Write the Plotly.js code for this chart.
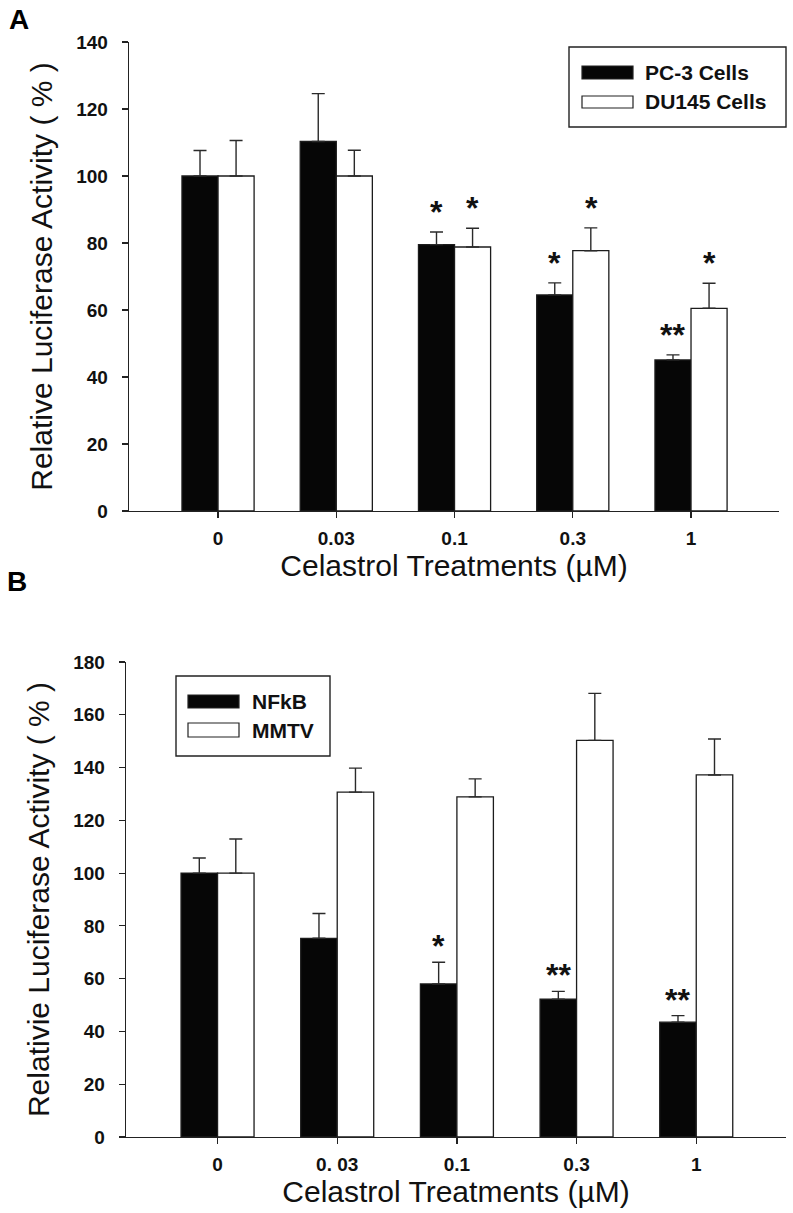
<!DOCTYPE html>
<html>
<head>
<meta charset="utf-8">
<script src="https://cdn.plot.ly/plotly-3.0.1.min.js"></script>
<style>html,body{margin:0;padding:0;background:#fff;}#chart{width:793px;height:1213px;}</style>
</head>
<body>
<div id="chart"></div>
<script>
// ---- Panel A data ----
var categoriesA = ["0", "0.03", "0.1", "0.3", "1"];
var seriesA1Name = "PC-3 Cells";
var seriesA2Name = "DU145 Cells";
var pc3 = [100, 110.3, 79.5, 64.5, 45.1];
var pc3Err = [7.6, 14.3, 3.8, 3.6, 1.5];
var du145 = [100, 100, 78.8, 77.7, 60.5];
var du145Err = [10.6, 7.7, 5.6, 6.8, 7.5];
var sigPc3 = ["", "", "*", "*", "**"];
var sigDu145 = ["", "", "*", "*", "*"];
var yTicksA = [0, 20, 40, 60, 80, 100, 120, 140];

// ---- Panel B data ----
var categoriesB = ["0", "0. 03", "0.1", "0.3", "1"];
var seriesB1Name = "NFkB";
var seriesB2Name = "MMTV";
var nfkb = [100, 75.3, 58, 52.2, 43.5];
var nfkbErr = [5.7, 9.4, 8.2, 3.0, 2.5];
var mmtv = [100, 130.7, 128.9, 150.3, 137.2];
var mmtvErr = [12.9, 9.1, 6.8, 17.8, 13.6];
var sigNfkb = ["", "", "*", "**", "**"];
var sigMmtv = ["", "", "", "", ""];
var yTicksB = [0, 20, 40, 60, 80, 100, 120, 140, 160, 180];

var xTitle = "Celastrol Treatments (\u00B5M)";
var yTitleA = "Relative Luciferase Activity ( % )";
var yTitleB = "Relativie Luciferase Activity ( % )";

// ---- styles ----
var FONT = "Liberation Sans, Arial, sans-serif";
var BLACK = "#060606";
var LINE = "#1c1c1c";
var W = 793, H = 1213;
function px(x) { return x / W; }
function py(y) { return 1 - y / H; }
function zeros(n) { var a = []; for (var i = 0; i < n; i++) a.push(0); return a; }
function idx(cats) { return cats.map(function (c, i) { return i; }); }

function barTrace(cats, vals, errs, name, fill, xa, ya) {
  return {
    type: "bar", x: idx(cats), y: vals, name: name, xaxis: xa, yaxis: ya,
    text: cats, textposition: "none",
    marker: { color: fill, line: { color: LINE, width: 1.3 } },
    error_y: { type: "data", symmetric: false, array: errs, arrayminus: zeros(errs.length),
      color: "#2a2a2a", thickness: 1.4, width: 6.5 },
    showlegend: false, hoverinfo: "text+y"
  };
}

var data = [
  barTrace(categoriesA, pc3, pc3Err, seriesA1Name, BLACK, "x", "y"),
  barTrace(categoriesA, du145, du145Err, seriesA2Name, "#ffffff", "x", "y"),
  barTrace(categoriesB, nfkb, nfkbErr, seriesB1Name, BLACK, "x2", "y2"),
  barTrace(categoriesB, mmtv, mmtvErr, seriesB2Name, "#ffffff", "x2", "y2")
];

var annotations = [];
var shapes = [];
function addStars(cats, vals, errs, sig, offX, shiftY, xr, yr) {
  for (var i = 0; i < cats.length; i++) {
    if (!sig[i]) continue;
    annotations.push({
      x: i + offX, y: vals[i] + errs[i], xref: xr, yref: yr,
      text: sig[i], showarrow: false, xanchor: "center", yanchor: "bottom",
      yshift: shiftY,
      font: { family: FONT, size: 32, color: "#111", weight: "bold" }
    });
  }
}
var HALF = 0.155;
addStars(categoriesA, pc3, pc3Err, sigPc3, -HALF, 0, "x", "y");
addStars(categoriesA, du145, du145Err, sigDu145, HALF, 0, "x", "y");
addStars(categoriesB, nfkb, nfkbErr, sigNfkb, -HALF, -4, "x2", "y2");
addStars(categoriesB, mmtv, mmtvErr, sigMmtv, HALF, -4, "x2", "y2");

// legends (boxes, swatches, labels)
function addLegend(box, sw, textX, names, rows) {
  shapes.push({ type: "rect", xref: "paper", yref: "paper",
    x0: px(box[0]), x1: px(box[1]), y0: py(box[3]), y1: py(box[2]),
    line: { color: "#222", width: 1.4 }, fillcolor: "rgba(0,0,0,0)" });
  var fills = [BLACK, "#ffffff"];
  for (var i = 0; i < 2; i++) {
    shapes.push({ type: "rect", xref: "paper", yref: "paper",
      x0: px(sw[0]), x1: px(sw[1]), y0: py(rows[i][1]), y1: py(rows[i][0]),
      line: { color: "#222", width: 1.2 }, fillcolor: fills[i] });
    annotations.push({ xref: "paper", yref: "paper", x: px(textX), y: py((rows[i][0] + rows[i][1]) / 2),
      text: names[i], showarrow: false, xanchor: "left", yanchor: "middle",
      font: { family: FONT, size: 21, color: "#111", weight: "bold" } });
  }
}
addLegend([569, 786, 47, 127], [582, 633], 643, [seriesA1Name, seriesA2Name], [[66, 79], [96, 108]]);
addLegend([176, 330, 676, 756], [188, 239], 250, [seriesB1Name, seriesB2Name], [[695, 708], [723, 737]]);

annotations.push({ xref: "paper", yref: "paper", x: px(7), y: py(2), text: "A", showarrow: false,
  xanchor: "left", yanchor: "top", font: { family: FONT, size: 28, color: "#000", weight: "bold" } });
annotations.push({ xref: "paper", yref: "paper", x: px(5), y: py(564), text: "B", showarrow: false,
  xanchor: "left", yanchor: "top", font: { family: FONT, size: 28, color: "#000", weight: "bold" } });

function xAxis(domain, range, cats, anchor) {
  return {
    domain: domain, range: range, anchor: anchor, type: "linear",
    tickvals: idx(cats), ticktext: cats,
    showline: true, linecolor: "#222", linewidth: 1.3, mirror: false,
    ticks: "outside", ticklen: 6, tickwidth: 1.2, tickcolor: "#222",
    showgrid: false, zeroline: false, fixedrange: true, ticklabelstandoff: 4,
    tickfont: { family: FONT, size: 19, color: "#111", weight: "bold" },
    title: { text: xTitle, standoff: 4, font: { family: FONT, size: 30, color: "#111" } }
  };
}
function yAxis(domain, range, ticks, anchor, title) {
  return {
    domain: domain, range: range, anchor: anchor,
    tickvals: ticks, ticktext: ticks.map(String),
    showline: true, linecolor: "#222", linewidth: 1.3,
    ticks: "outside", ticklen: 6, tickwidth: 1.2, tickcolor: "#222",
    showgrid: false, zeroline: false, fixedrange: true, ticklabelstandoff: 10,
    tickfont: { family: FONT, size: 19, color: "#111", weight: "bold" },
    title: { text: title, standoff: 14, font: { family: FONT, size: 30, color: "#111" } }
  };
}

var layout = {
  width: W, height: H,
  margin: { l: 0, r: 0, t: 0, b: 0, pad: 0 },
  paper_bgcolor: "#fff", plot_bgcolor: "#fff",
  barmode: "group", bargap: 0.39, bargroupgap: 0,
  showlegend: false,
  xaxis: xAxis([px(129), px(779)], [-0.753, 4.744], categoriesA, "y"),
  yaxis: yAxis([py(511), py(42)], [0, 140], yTicksA, "x", yTitleA),
  xaxis2: xAxis([px(126), px(786)], [-0.765, 4.75], categoriesB, "y2"),
  yaxis2: yAxis([py(1137), py(662)], [0, 180], yTicksB, "x2", yTitleB),
  annotations: annotations,
  shapes: shapes
};

Plotly.newPlot("chart", data, layout, { displayModeBar: false, staticPlot: true });
</script>
</body>
</html>
